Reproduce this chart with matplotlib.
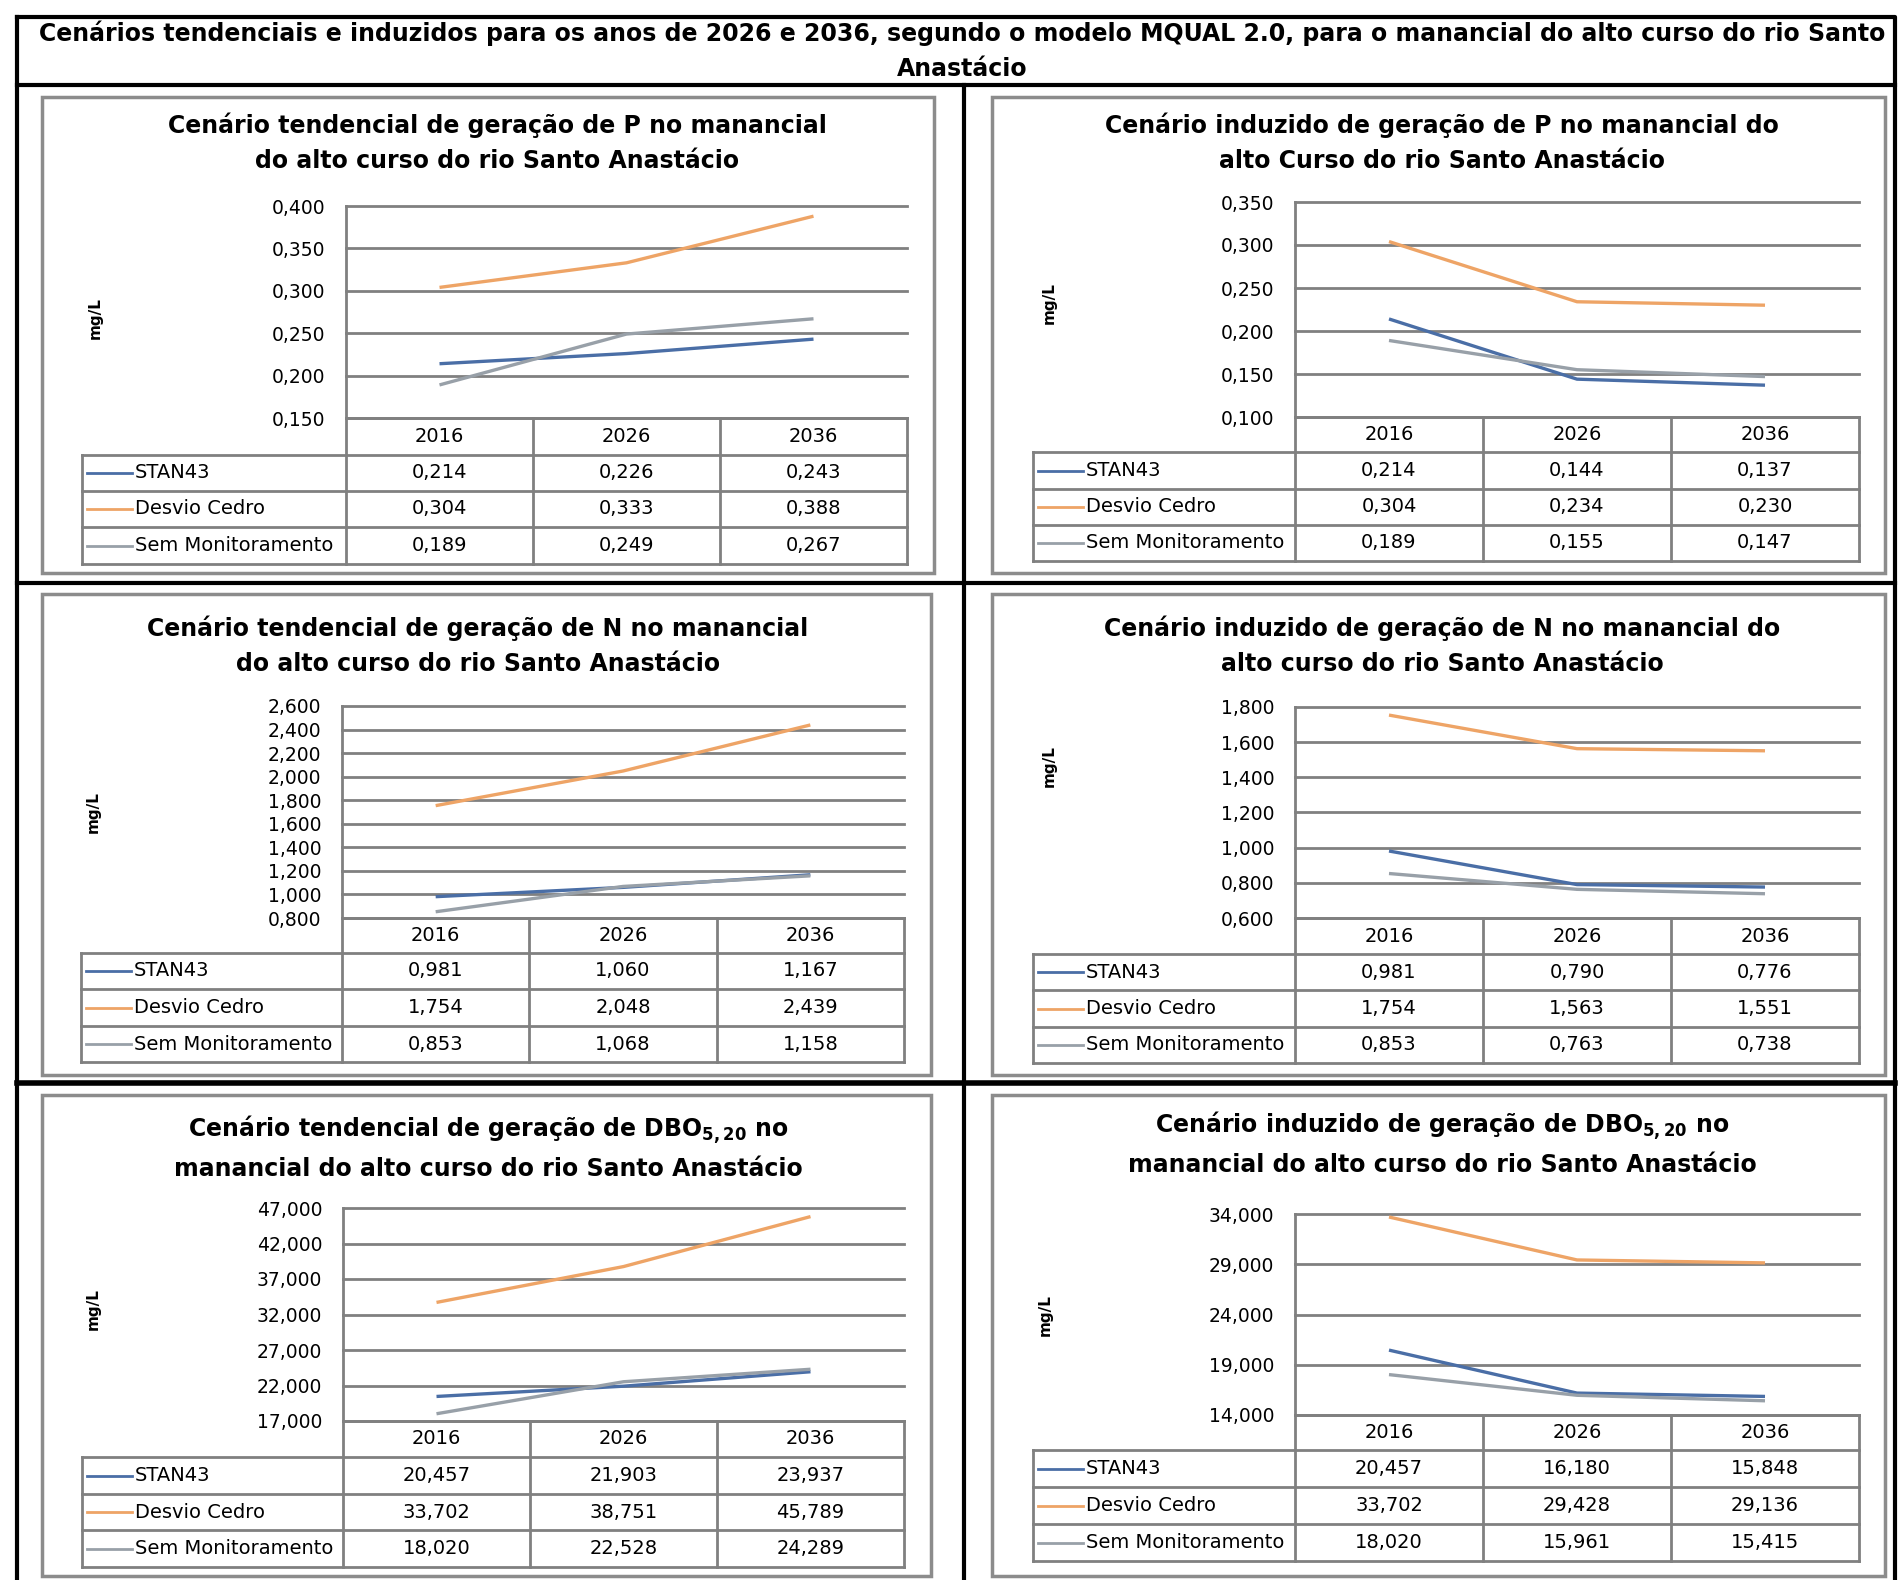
import matplotlib.pyplot as plt
from matplotlib.patches import Rectangle

plt.rcParams['font.family'] = 'DejaVu Sans'
plt.rcParams['mathtext.fontset'] = 'custom'
plt.rcParams['mathtext.rm'] = 'DejaVu Sans'
plt.rcParams['mathtext.bf'] = 'DejaVu Sans:bold'

# data
years = ['2016', '2026', '2036']
series = ['STAN43', 'Desvio Cedro', 'Sem Monitoramento']
colors = ['#4a6ea6', '#eea466', '#98a0a8']

p_tend_stan43 = [0.214, 0.226, 0.243]
p_tend_cedro = [0.304, 0.333, 0.388]
p_tend_sem = [0.189, 0.249, 0.267]
p_tend_ticks = [0.150, 0.200, 0.250, 0.300, 0.350, 0.400]

p_ind_stan43 = [0.214, 0.144, 0.137]
p_ind_cedro = [0.304, 0.234, 0.230]
p_ind_sem = [0.189, 0.155, 0.147]
p_ind_ticks = [0.100, 0.150, 0.200, 0.250, 0.300, 0.350]

n_tend_stan43 = [0.981, 1.060, 1.167]
n_tend_cedro = [1.754, 2.048, 2.439]
n_tend_sem = [0.853, 1.068, 1.158]
n_tend_ticks = [0.8, 1.0, 1.2, 1.4, 1.6, 1.8, 2.0, 2.2, 2.4, 2.6]

n_ind_stan43 = [0.981, 0.790, 0.776]
n_ind_cedro = [1.754, 1.563, 1.551]
n_ind_sem = [0.853, 0.763, 0.738]
n_ind_ticks = [0.6, 0.8, 1.0, 1.2, 1.4, 1.6, 1.8]

dbo_tend_stan43 = [20.457, 21.903, 23.937]
dbo_tend_cedro = [33.702, 38.751, 45.789]
dbo_tend_sem = [18.020, 22.528, 24.289]
dbo_tend_ticks = [17, 22, 27, 32, 37, 42, 47]

dbo_ind_stan43 = [20.457, 16.180, 15.848]
dbo_ind_cedro = [33.702, 29.428, 29.136]
dbo_ind_sem = [18.020, 15.961, 15.415]
dbo_ind_ticks = [14, 19, 24, 29, 34]

main_title = ('Cenários tendenciais e induzidos para os anos de 2026 e 2036, segundo o modelo '
              'MQUAL 2.0, para o manancial do alto curso do rio Santo\nAnastácio')

W, H = 1901, 1580
fig = plt.figure(figsize=(W / 100, H / 100), dpi=100)
bg = fig.add_axes([0, 0, 1, 1])
bg.set_xlim(0, W)
bg.set_ylim(H, 0)
bg.axis('off')

GRID = '#808080'


def box(l, t, r, b):
    return [l / W, 1 - b / H, (r - l) / W, (b - t) / H]


def fmt(v):
    return f'{v:.3f}'.replace('.', ',')


def panel(frame, plot, rows, label_left, title, title_xy, ylab_xy, ticks, data):
    l, t, r, b = frame
    bg.add_patch(Rectangle((l, t), r - l, b - t, fill=False, ec='#8c8c8c', lw=2.5))
    bg.text(title_xy[0], title_xy[1], title, ha='center', va='center',
            fontsize=17, fontweight='bold', linespacing=1.6)
    bg.text(ylab_xy[0], ylab_xy[1], 'mg/L', rotation=90, ha='center', va='center',
            fontsize=11, fontweight='bold')

    pl, pt, pr, pb = plot
    ax = fig.add_axes(box(pl, pt, pr, pb))
    ax.patch.set_alpha(0)
    for vals, c in zip(data, colors):
        ax.plot(range(len(years)), vals, color=c, lw=2.4, solid_capstyle='butt')
    ax.set_xlim(-0.5, len(years) - 0.5)
    ax.set_ylim(ticks[0], ticks[-1])
    ax.set_yticks(ticks)
    ax.set_yticklabels([fmt(v) for v in ticks])
    ax.set_xticks([])
    ax.tick_params(axis='y', length=0, pad=15, labelsize=13.5)
    ax.yaxis.grid(True, color=GRID, lw=2)
    ax.set_axisbelow(True)
    for gl in ax.get_ygridlines():
        gl.set_clip_on(False)
    for s in ['top', 'right', 'bottom']:
        ax.spines[s].set_visible(False)
    ax.spines['left'].set_color(GRID)
    ax.spines['left'].set_linewidth(2)

    # data table under the chart
    cw = (pr - pl) / len(years)
    cols = [pl + i * cw for i in range(len(years) + 1)]
    lk = dict(color=GRID, lw=2)
    bg.plot([pl, pr], [rows[0], rows[0]], **lk)
    for y in rows[1:]:
        bg.plot([label_left, pr], [y, y], **lk)
    bg.plot([label_left, label_left], [rows[1], rows[-1]], **lk)
    for x in cols:
        bg.plot([x, x], [rows[0], rows[-1]], **lk)
    for i, yr in enumerate(years):
        bg.text(cols[i] + cw / 2, (rows[0] + rows[1]) / 2, yr, ha='center', va='center', fontsize=14)
    for j, (name, vals, c) in enumerate(zip(series, data, colors)):
        yc = (rows[j + 1] + rows[j + 2]) / 2
        bg.plot([label_left + 5, label_left + 50], [yc, yc], color=c, lw=2)
        bg.text(label_left + 53, yc, name, ha='left', va='center', fontsize=14)
        for i, v in enumerate(vals):
            bg.text(cols[i] + cw / 2, yc, fmt(v), ha='center', va='center', fontsize=14)


# outer table of the figure
lw_out = 3
bg.plot([17, 1895, 1895], [17, 17, H], color='black', lw=lw_out)
bg.plot([17, 17], [17, H], color='black', lw=lw_out)
bg.plot([17, 1895], [85, 85], color='black', lw=lw_out)
bg.plot([964, 964], [85, H], color='black', lw=lw_out)
bg.plot([17, 1895], [583, 583], color='black', lw=lw_out)
bg.plot([17, 1895], [1083, 1083], color='black', lw=4)
bg.text(962, 51, main_title, ha='center', va='center', fontsize=17,
        fontweight='bold', linespacing=1.6)

panel((42, 97, 934, 573), (346, 206, 907, 418), [418, 455, 491, 527, 564], 82,
      'Cenário tendencial de geração de P no manancial\ndo alto curso do rio Santo Anastácio',
      (497, 143), (95, 318), p_tend_ticks, [p_tend_stan43, p_tend_cedro, p_tend_sem])

panel((992, 97, 1885, 573), (1295, 202, 1859, 417), [417, 452, 489, 525, 561], 1033,
      'Cenário induzido de geração de P no manancial do\nalto Curso do rio Santo Anastácio',
      (1442, 143), (1049, 303), p_ind_ticks, [p_ind_stan43, p_ind_cedro, p_ind_sem])

panel((42, 594, 931, 1075), (342, 706, 904, 918), [918, 953, 989, 1026, 1062], 81,
      'Cenário tendencial de geração de N no manancial\ndo alto curso do rio Santo Anastácio',
      (478, 646), (93, 812), n_tend_ticks, [n_tend_stan43, n_tend_cedro, n_tend_sem])

panel((992, 594, 1885, 1075), (1295, 707, 1859, 918), [918, 954, 990, 1027, 1063], 1033,
      'Cenário induzido de geração de N no manancial do\nalto curso do rio Santo Anastácio',
      (1442, 646), (1049, 766), n_ind_ticks, [n_ind_stan43, n_ind_cedro, n_ind_sem])

panel((42, 1095, 931, 1576), (343, 1208, 904, 1421), [1421, 1457, 1494, 1530, 1567], 82,
      'Cenário tendencial de geração de DBO$_{\\mathbf{5,20}}$ no\nmanancial do alto curso do rio Santo Anastácio',
      (488, 1147), (93, 1309), dbo_tend_ticks, [dbo_tend_stan43, dbo_tend_cedro, dbo_tend_sem])

panel((992, 1095, 1885, 1576), (1295, 1214, 1859, 1415), [1415, 1450, 1487, 1524, 1561], 1033,
      'Cenário induzido de geração de DBO$_{\\mathbf{5,20}}$ no\nmanancial do alto curso do rio Santo Anastácio',
      (1442, 1143), (1045, 1315), dbo_ind_ticks, [dbo_ind_stan43, dbo_ind_cedro, dbo_ind_sem])

fig.savefig('out.png', dpi=100)
